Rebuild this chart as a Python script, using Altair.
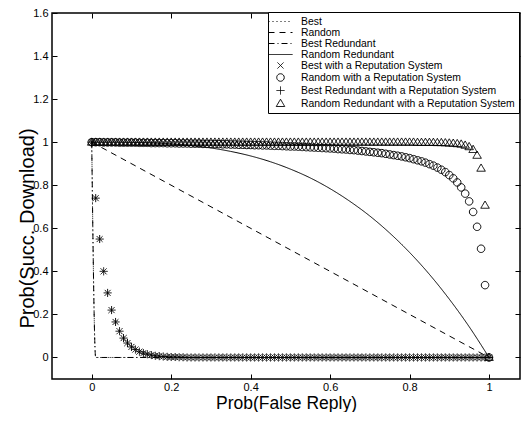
import altair as alt
import pandas as pd

# ---------------- data ----------------
series_names = [
    "Best",
    "Random",
    "Best Redundant",
    "Random Redundant",
    "Best with a Reputation System",
    "Random with a Reputation System",
    "Best Redundant with a Reputation System",
    "Random Redundant with a Reputation System",
]

# analytic curves (lines)
best_x = [0.0, 0.01, 1.0]
best_y = [1.0, 0.0, 0.0]
random_x = [0.0, 1.0]
random_y = [1.0, 0.0]
best_red_x = [0.0, 0.01, 1.0]
best_red_y = [1.0, 0.0, 0.0]
rand_red_x = [0.0, 0.05, 0.10, 0.15, 0.20, 0.25, 0.30, 0.35, 0.40, 0.45, 0.50,
              0.55, 0.60, 0.65, 0.70, 0.75, 0.80, 0.85, 0.90, 0.95, 1.0]
rand_red_y = [1.0, 1.0, 0.999, 0.997, 0.992, 0.984, 0.973, 0.957, 0.936, 0.909, 0.875,
              0.834, 0.784, 0.725, 0.657, 0.578, 0.488, 0.386, 0.271, 0.143, 0.0]

# simulated series (markers), x = 0.00, 0.01, ..., 1.00
rep_x = [i / 100 for i in range(101)]

best_rep_y = [1.0, 0.74, 0.55, 0.40, 0.30, 0.22, 0.165, 0.122, 0.090, 0.067,
              0.049, 0.037, 0.027, 0.020, 0.015, 0.011, 0.008, 0.006, 0.0045, 0.003,
              0.002, 0.002, 0.001, 0.001] + [0.0] * 77

rand_rep_y = [1.000, 1.000, 1.000, 0.999, 0.999, 0.999, 0.999, 0.998, 0.998, 0.998,
              0.998, 0.998, 0.997, 0.997, 0.997, 0.996, 0.996, 0.996, 0.996, 0.995,
              0.995, 0.995, 0.994, 0.994, 0.994, 0.993, 0.993, 0.993, 0.992, 0.992,
              0.992, 0.991, 0.991, 0.990, 0.990, 0.989, 0.989, 0.988, 0.988, 0.987,
              0.987, 0.986, 0.986, 0.985, 0.985, 0.984, 0.983, 0.983, 0.982, 0.981,
              0.980, 0.980, 0.979, 0.978, 0.977, 0.976, 0.975, 0.974, 0.973, 0.972,
              0.971, 0.970, 0.968, 0.967, 0.966, 0.964, 0.963, 0.961, 0.959, 0.957,
              0.955, 0.953, 0.951, 0.949, 0.946, 0.943, 0.940, 0.937, 0.934, 0.930,
              0.926, 0.921, 0.916, 0.911, 0.905, 0.898, 0.891, 0.882, 0.872, 0.861,
              0.847, 0.832, 0.813, 0.790, 0.761, 0.725, 0.676, 0.607, 0.505, 0.336,
              0.0]

best_red_rep_y = [1.0, 0.74, 0.55, 0.40, 0.30, 0.22, 0.165, 0.122, 0.090, 0.067,
                  0.049, 0.037, 0.027, 0.020, 0.015, 0.011, 0.008, 0.006, 0.0045, 0.003,
                  0.002, 0.002, 0.001, 0.001] + [0.0] * 77

rand_red_rep_y = [1.0] * 82 + [0.999, 0.999, 0.999, 0.999, 0.999, 0.998, 0.998, 0.997,
                               0.996, 0.995, 0.993, 0.991, 0.986, 0.979, 0.966, 0.939,
                               0.879, 0.707, 0.0]

x_ticks = [0, 0.2, 0.4, 0.6, 0.8, 1]
y_ticks = [0, 0.2, 0.4, 0.6, 0.8, 1, 1.2, 1.4, 1.6]

# ---------------- tables ----------------
line_rows = []
for name, xs, ys in [(series_names[0], best_x, best_y),
                     (series_names[1], random_x, random_y),
                     (series_names[2], best_red_x, best_red_y),
                     (series_names[3], rand_red_x, rand_red_y)]:
    for i, (a, b) in enumerate(zip(xs, ys)):
        line_rows.append({"series": name, "x": a, "y": b, "order": i})
lines_df = pd.DataFrame(line_rows)

pt_rows = []
for name, ys in [(series_names[4], best_rep_y),
                 (series_names[5], rand_rep_y),
                 (series_names[6], best_red_rep_y),
                 (series_names[7], rand_red_rep_y)]:
    for a, b in zip(rep_x, ys):
        pt_rows.append({"series": name, "x": a, "y": b})
pts_df = pd.DataFrame(pt_rows)

# ---------------- styles ----------------
LINE_SYM = "M -2.4 0 L 2.4 0"
X_SYM = "M -0.6 -0.6 L 0.6 0.6 M -0.6 0.6 L 0.6 -0.6"
CIRC_SYM = "M -0.75 0 A 0.75 0.75 0 1 0 0.75 0 A 0.75 0.75 0 1 0 -0.75 0 Z"
PLUS_SYM = "M -0.8 0 L 0.8 0 M 0 -0.8 L 0 0.8"
TRI_SYM = "M 0 -0.85 L 0.85 0.6 L -0.85 0.6 Z"
shape_range = [LINE_SYM, LINE_SYM, LINE_SYM, LINE_SYM, X_SYM, CIRC_SYM, PLUS_SYM, TRI_SYM]
dash_range = [[1, 3], [6, 5], [6, 3, 1, 3], [1, 0], [1, 0], [1, 0], [1, 0], [1, 0]]

FONT = "Liberation Sans"
xscale = alt.Scale(domain=[-0.1, 1.078], nice=False, zero=False)
yscale = alt.Scale(domain=[-0.1, 1.6], nice=False, zero=False)
dash_scale = alt.Scale(domain=series_names, range=dash_range)
shape_scale = alt.Scale(domain=series_names, range=shape_range)

common_axis = dict(domain=False, grid=False, offset=-5, tickSize=5, tickColor="black",
                   tickWidth=1, labelColor="black", labelFont=FONT, labelFontSize=11,
                   titleColor="black", titleFont=FONT, titleFontWeight="normal")

x_bottom = alt.Axis(orient="bottom", values=x_ticks, format="~g", labelPadding=2,
                    title="Prob(False Reply)", titleFontSize=17.5, titleY=20,
                    **common_axis)
y_left = alt.Axis(orient="left", values=y_ticks, format="~g", labelPadding=4,
                  title="Prob(Succ. Download)", titleFontSize=20, titleAngle=270,
                  titleX=-30, titleY=215, titleBaseline="middle", titleAlign="center",
                  **common_axis)
x_top = alt.Axis(orient="top", values=x_ticks, labels=False, title=None, **common_axis)
y_right = alt.Axis(orient="right", values=y_ticks, labels=False, title=None, **common_axis)

lines = alt.Chart(lines_df).mark_line(color="black", strokeWidth=1, interpolate="monotone").encode(
    x=alt.X("x:Q", scale=xscale, axis=x_bottom),
    y=alt.Y("y:Q", scale=yscale, axis=y_left),
    strokeDash=alt.StrokeDash("series:N", scale=dash_scale, title=None),
    order="order:Q",
)

points = alt.Chart(pts_df).mark_point(filled=False, color="black", size=100, strokeWidth=1,
                                      opacity=1).encode(
    x=alt.X("x:Q", scale=xscale, axis=x_top),
    y=alt.Y("y:Q", scale=yscale, axis=y_right),
    shape=alt.Shape("series:N", scale=shape_scale, title=None),
    strokeDash=alt.StrokeDash("series:N", scale=dash_scale, title=None),
)

chart = alt.layer(lines, points).resolve_axis(x="independent", y="independent").properties(
    width=468, height=366,
    autosize=alt.AutoSizeParams(type="none"),
    padding={"left": 44, "top": 5, "right": 1, "bottom": 33},
).configure_view(
    stroke="black", strokeWidth=1.5
).configure_legend(
    orient="none", legendX=216, legendY=-1, padding=4,
    strokeColor="black", strokeWidth=1, fillColor="white",
    labelFont=FONT, labelFontSize=10.4, labelColor="black", labelLimit=400,
    symbolSize=100, symbolStrokeWidth=1, symbolStrokeColor="black",
    symbolFillColor="transparent", labelOffset=15, symbolOffset=3, rowPadding=0,
)

chart.save("out.html", embed_options={"renderer": "svg", "actions": False})
